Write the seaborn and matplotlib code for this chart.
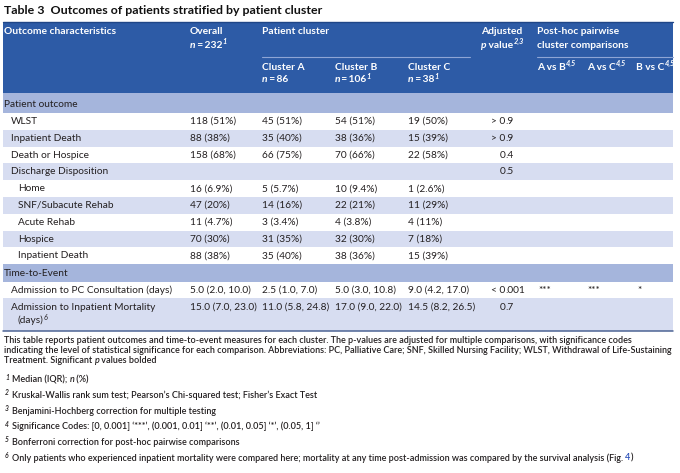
import numpy as np
import pandas as pd
import matplotlib
matplotlib.use("Agg")
import matplotlib.pyplot as plt
import seaborn as sns

sns.set_theme(style="white")
plt.rcParams['font.family'] = ['Lato', 'DejaVu Sans']

# ---- table content ----
row_labels = ['Patient outcome', 'WLST', 'Inpatient Death', 'Death or Hospice',
              'Discharge Disposition', 'Home', 'SNF/Subacute Rehab', 'Acute Rehab',
              'Hospice', 'Inpatient Death', 'Time-to-Event',
              'Admission to PC Consultation (days)',
              'Admission to Inpatient Mortality']
row_level = [0, 1, 1, 1, 1, 2, 2, 2, 2, 2, 0, 1, 1]
overall = ['', '118 (51%)', '88 (38%)', '158 (68%)', '', '16 (6.9%)', '47 (20%)',
           '11 (4.7%)', '70 (30%)', '88 (38%)', '', '5.0 (2.0, 10.0)', '15.0 (7.0, 23.0)']
cluster_a = ['', '45 (51%)', '35 (40%)', '66 (75%)', '', '5 (5.7%)', '14 (16%)',
             '3 (3.4%)', '31 (35%)', '35 (40%)', '', '2.5 (1.0, 7.0)', '11.0 (5.8, 24.8)']
cluster_b = ['', '54 (51%)', '38 (36%)', '70 (66%)', '', '10 (9.4%)', '22 (21%)',
             '4 (3.8%)', '32 (30%)', '38 (36%)', '', '5.0 (3.0, 10.8)', '17.0 (9.0, 22.0)']
cluster_c = ['', '19 (50%)', '15 (39%)', '22 (58%)', '', '1 (2.6%)', '11 (29%)',
             '4 (11%)', '7 (18%)', '15 (39%)', '', '9.0 (4.2, 17.0)', '14.5 (8.2, 26.5)']
p_value = ['', '> 0.9', '> 0.9', '0.4', '0.5', '', '', '', '', '', '', '< 0.001', '0.7']
a_vs_b = ['', '', '', '', '', '', '', '', '', '', '', '***', '']
a_vs_c = ['', '', '', '', '', '', '', '', '', '', '', '***', '']
b_vs_c = ['', '', '', '', '', '', '', '', '', '', '', '*', '']

df = pd.DataFrame({'label': row_labels, 'level': row_level, 'overall': overall,
                   'A': cluster_a, 'B': cluster_b, 'C': cluster_c, 'p': p_value,
                   'AB': a_vs_b, 'AC': a_vs_c, 'BC': b_vs_c})

notes_text = [
    'This table reports patient outcomes and time-to-event measures for each cluster. The p-values are adjusted for multiple comparisons, with significance codes',
    'indicating the level of statistical significance for each comparison. Abbreviations: PC, Palliative Care; SNF, Skilled Nursing Facility; WLST, Withdrawal of Life-Sustaining',
]
footnotes = [
    [('Median (IQR); ', {}), ('n', {'it': 1}), (' (%)', {})],
    [('Kruskal-Wallis rank sum test; Pearson\u2019s Chi-squared test; Fisher\u2019s Exact Test', {})],
    [('Benjamini-Hochberg correction for multiple testing', {})],
    [('Significance Codes: [0, 0.001] \u2018***\u2019, (0.001, 0.01] \u2018**\u2019, (0.01, 0.05] \u2018*\u2019, (0.05, 1] \u2018\u2019', {})],
    [('Bonferroni correction for post-hoc pairwise comparisons', {})],
    [('Only patients who experienced inpatient mortality were compared here; mortality at any time post-admission was compared by the survival analysis (Fig. ', {}),
     ('4', {'color': '#2a4fb8'}), (')', {})],
]

# ---- style ----
HEAD = '#2d5ba6'
BAND = '#a5b5dc'
STRIPE = '#d7ddf1'
TXT = '#231f20'
FS = 7.3      # body
HFS = 7.4     # header
NFS = 6.45    # notes
X0, X1 = 3, 673
TS = '\u2009'

fig = plt.figure(figsize=(6.8, 4.73), dpi=100)
ax = fig.add_axes([0, 0, 1, 1])
ax.set_xlim(0, 680)
ax.set_ylim(473, 0)
ax.axis('off')
renderer = fig.canvas.get_renderer()


def runs(x, y, parts, size=FS, color=TXT, weight='normal'):
    cur = x
    for txt, sty in parts:
        fs = size
        dy = 0
        if sty.get('sup'):
            fs = size * 0.72
            dy = -size * 100 / 72 * 0.3
        t = ax.text(cur, y + dy, txt, fontsize=fs, va='center', ha='left',
                    color=sty.get('color', color),
                    weight=sty.get('weight', weight),
                    style='italic' if (sty.get('it') or sty.get('sup')) else 'normal')
        cur += t.get_window_extent(renderer).width
    return cur


# title
runs(4, 10, [('Table 3  Outcomes of patients stratified by patient cluster', {})],
     size=8.9, weight='bold', color='#111111')

# header block
ax.add_patch(plt.Rectangle((X0, 22), X1 - X0, 71, color=HEAD, lw=0))
ax.plot([X0, X1], [22.5, 22.5], color='#1f4687', lw=1)
ax.plot([262, 470], [57, 57], color='#8ea5d5', lw=0.8)
ax.plot([537, X1], [57, 57], color='#8ea5d5', lw=0.8)
W = 'white'


def head(x, y, parts):
    runs(x, y, parts, size=HFS, color=W, weight='bold')


head(4, 32, [('Outcome characteristics', {})])
head(190, 32, [('Overall', {})])
head(190, 45, [('n', {'it': 1}), (TS + '=' + TS + '232', {}), ('1', {'sup': 1})])
head(262, 32, [('Patient cluster', {})])
for xc, name, n, sup in [(262, 'Cluster A', '86', False), (335, 'Cluster B', '106', True),
                         (408, 'Cluster C', '38', True)]:
    head(xc, 67, [(name, {})])
    parts = [('n', {'it': 1}), (TS + '=' + TS + n, {})]
    if sup:
        parts.append(('1', {'sup': 1}))
    head(xc, 80, parts)
head(481, 32, [('Adjusted', {})])
head(481, 45, [('p', {'it': 1}), (' value', {}), ('2,3', {'sup': 1})])
head(537, 32, [('Post-hoc pairwise', {})])
head(537, 45, [('cluster comparisons', {})])
for xc, name in [(537, 'A vs B'), (587, 'A vs C'), (636, 'B vs C')]:
    head(xc, 67, [(name, {}), ('4,5', {'sup': 1})])

# body rows
heights = [20.0] + [16.8] * 9 + [17.4, 16.8, 32.6]
top = 93.0
shade_i = 0
indent = {0: 4, 1: 11, 2: 18}
col_x = {'overall': 190, 'A': 262, 'B': 335, 'C': 408, 'AB': 538, 'AC': 587, 'BC': 637}
for i, row in df.iterrows():
    h = heights[i]
    if row['level'] == 0:
        ax.add_patch(plt.Rectangle((X0, top), X1 - X0, h, color=BAND, lw=0))
        shade_i = 0
        yc = top + h / 2 + 1
    else:
        shade_i += 1
        if shade_i % 2 == 0:
            ax.add_patch(plt.Rectangle((X0, top), X1 - X0, h, color=STRIPE, lw=0))
        yc = top + 8.6 if h > 20 else top + h / 2
    runs(indent[row['level']], yc, [(row['label'], {})])
    if i == len(df) - 1:
        runs(18, yc + 13.5, [('(days)', {}), ('6', {'sup': 1})])
    for c, xc in col_x.items():
        if row[c]:
            runs(xc, yc, [(row[c], {})])
    pv = row['p']
    if pv:
        hd, tl = pv.split('.')
        ax.text(505, yc, hd, fontsize=FS, va='center', ha='right', color=TXT)
        ax.text(505, yc, '.' + tl, fontsize=FS, va='center', ha='left', color=TXT)
    top += h

ax.plot([X0, X1], [top, top], color='#4d6494', lw=1.1)

# notes
NW = 'semibold'
runs(4, 340.5, [(notes_text[0], {})], size=NFS, weight=NW)
runs(4, 350.5, [(notes_text[1], {})], size=NFS, weight=NW)
runs(4, 360.5, [('Treatment. Significant ', {}), ('p', {'it': 1}), (' values bolded', {})],
     size=NFS, weight=NW)
for k, parts in enumerate(footnotes):
    yy = 379.8 + k * 15.6
    ax.text(5, yy - 2.5, str(k + 1), fontsize=NFS * 0.75, style='italic',
            va='center', ha='left', color=TXT, weight=NW)
    runs(12, yy, parts, size=NFS, weight=NW)

fig.savefig('out.png', dpi=100)
